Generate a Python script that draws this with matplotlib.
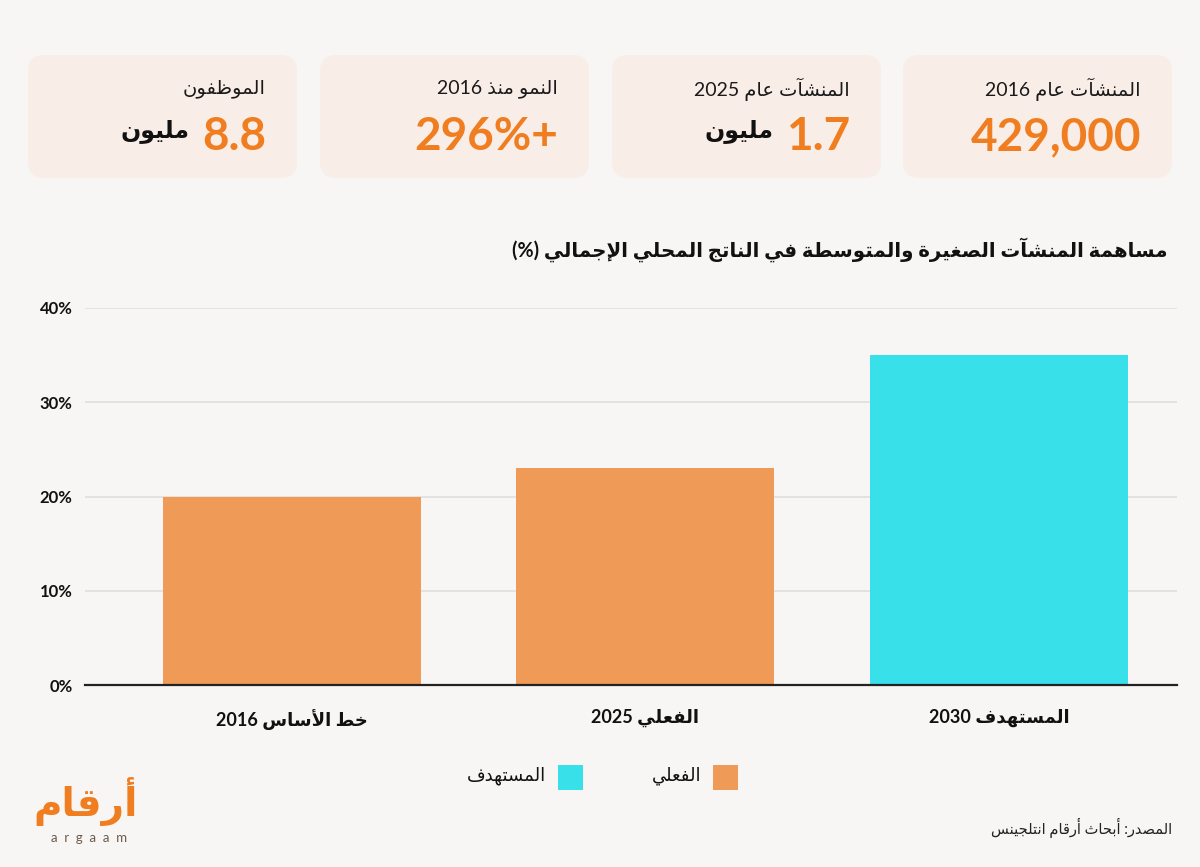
import re
import matplotlib
matplotlib.use("Agg")
import matplotlib.pyplot as plt
from matplotlib.patches import FancyBboxPatch, Rectangle

# ---- data ----
categories = ["خط الأساس 2016", "الفعلي 2025", "المستهدف 2030"]
gdp_share = [20, 23, 35]
bar_kind = ["actual", "actual", "target"]
y_ticks = [0, 10, 20, 30, 40]

card_labels = ["المنشآت عام 2016", "المنشآت عام 2025", "النمو منذ 2016", "الموظفون"]
card_values = ["429,000", "1.7", "296%+", "8.8"]
card_units = ["", "مليون", "", "مليون"]

title = "مساهمة المنشآت الصغيرة والمتوسطة في الناتج المحلي الإجمالي (%)"
legend_labels = {"actual": "الفعلي", "target": "المستهدف"}
source = "المصدر: أبحاث أرقام انتلجينس"

# ---- colours ----
BG = "#f8f6f4"
CARD = "#f8ede7"
ORANGE_TXT = "#f07d1f"
COLORS = {"actual": "#f09a57", "target": "#38e0ea"}
FONT = ["Lato", "DejaVu Sans"]

# ---- minimal arabic shaping (matplotlib has no text shaping) ----
RJ = set("آأؤإاةدذرزوى")
LETTERS = [chr(c) for c in range(0x0622, 0x063B)] + [chr(c) for c in range(0x0641, 0x064B)]
FORMS = {"ء": ("\uFE80",) * 4}
code = 0xFE81
for ch in LETTERS:
    n = 2 if ch in RJ else 4
    f = [chr(code + i) for i in range(n)]
    if n == 2:
        f = f + f
    FORMS[ch] = tuple(f)
    code += n
LAM_ALEF = {"آ": 0xFEF5, "أ": 0xFEF7, "إ": 0xFEF9, "ا": 0xFEFB}


def joins_next(ch):
    return ch in FORMS and ch not in RJ and ch != "ء"


def shape(s):
    res = []
    i = 0
    while i < len(s):
        ch = s[i]
        prev = s[i - 1] if i > 0 else ""
        nxt = s[i + 1] if i + 1 < len(s) else ""
        lp = ch in FORMS and ch != "ء" and joins_next(prev)
        if ch == "ل" and nxt in LAM_ALEF:
            res.append(chr(LAM_ALEF[nxt] + (1 if lp else 0)))
            i += 2
            continue
        if ch in FORMS:
            ln = joins_next(ch) and nxt in FORMS and nxt != "ء"
            # forms: isolated, final, initial, medial
            res.append(FORMS[ch][{(0, 0): 0, (1, 0): 1, (0, 1): 2, (1, 1): 3}[(int(lp), int(ln))]])
        else:
            res.append(ch)
        i += 1
    return "".join(res)


def ar(s):
    runs = re.findall(r"[0-9A-Za-z][0-9A-Za-z.,]*|[^0-9A-Za-z]+", shape(s))
    out = []
    for r in reversed(runs):
        if re.match(r"[0-9A-Za-z]", r):
            out.append(r)
        else:
            out.append("".join({"(": ")", ")": "("}.get(c, c) for c in reversed(r)))
    return "".join(out)


# ---- figure ----
fig = plt.figure(figsize=(12, 8.67), dpi=100)
fig.patch.set_facecolor(BG)

# overlay in pixel coordinates for cards, title, legend, source
ov = fig.add_axes([0, 0, 1, 1])
ov.set_xlim(0, 1200)
ov.set_ylim(867, 0)
ov.axis("off")
ov.patch.set_alpha(0)

card_x = [903, 612, 320, 28]
cw, ch_, cy, r = 269, 123, 55, 16
for x0, lab, val, unit in zip(card_x, card_labels, card_values, card_units):
    ov.add_patch(FancyBboxPatch((x0 + r, cy + r), cw - 2 * r, ch_ - 2 * r,
                                boxstyle=f"round,pad={r}", fc=CARD, ec="none"))
    xr = x0 + cw - 31
    ov.text(xr, 89, ar(lab), ha="right", va="center", fontsize=14,
            family=FONT, color="#1a1a1a")
    t = ov.text(xr, 137, val, ha="right", va="center", fontsize=33,
                family=FONT, weight="bold", color=ORANGE_TXT)
    if unit:
        fig.canvas.draw()
        bb = t.get_window_extent()
        ov.text(bb.x0 - 12, 131, ar(unit), ha="right", va="center",
                fontsize=17, family=FONT, weight="bold", color="#111111")

ov.text(1168, 250, ar(title), ha="right", va="center", fontsize=14.2,
        family=FONT, weight="bold", color="#111111")

# legend
for sx, kind in [(713, "actual"), (558, "target")]:
    ov.add_patch(Rectangle((sx, 765), 25, 25, fc=COLORS[kind], ec="none"))
    ov.text(sx - 12, 776, ar(legend_labels[kind]), ha="right", va="center",
            fontsize=13, family=FONT, color="#111111")

ov.text(1172, 828, ar(source), ha="right", va="center", fontsize=10.5,
        family=FONT, color="#222222")

# logo
ov.text(86, 801, ar("أرقام"), ha="center", va="center", fontsize=28,
        family=FONT, weight="bold", color="#f07d1f")
ov.text(89, 838, "a  r  g  a  a  m", ha="center", va="center", fontsize=9.5,
        family=FONT, color="#6b5a4e")

# ---- bar chart ----
ax = fig.add_axes([85 / 1200, 1 - 685 / 867, 1092 / 1200, 377 / 867])
ax.patch.set_alpha(0)
xs = range(len(categories))
ax.bar(xs, gdp_share, width=0.73, color=[COLORS[k] for k in bar_kind], zorder=2)
ax.set_xlim(-0.586, 2.504)
ax.set_ylim(0, 40)
ax.set_yticks(y_ticks)
ax.set_yticklabels([f"{v}%" for v in y_ticks], family=FONT, weight="bold",
                   fontsize=12, color="#111111")
ax.set_xticks(list(xs))
ax.set_xticklabels([ar(c) for c in categories], family=FONT, weight="bold",
                   fontsize=13, color="#111111")
ax.tick_params(axis="both", length=0)
ax.tick_params(axis="y", pad=9)
ax.tick_params(axis="x", pad=17)
ax.grid(axis="y", color="#e0dedc", lw=1.2, zorder=0)
for s in ["top", "right", "left"]:
    ax.spines[s].set_visible(False)
ax.spines["bottom"].set_color("#222222")
ax.spines["bottom"].set_linewidth(1.6)
ax.spines["bottom"].set_zorder(3)

fig.savefig("out.png", dpi=100, facecolor=BG)
